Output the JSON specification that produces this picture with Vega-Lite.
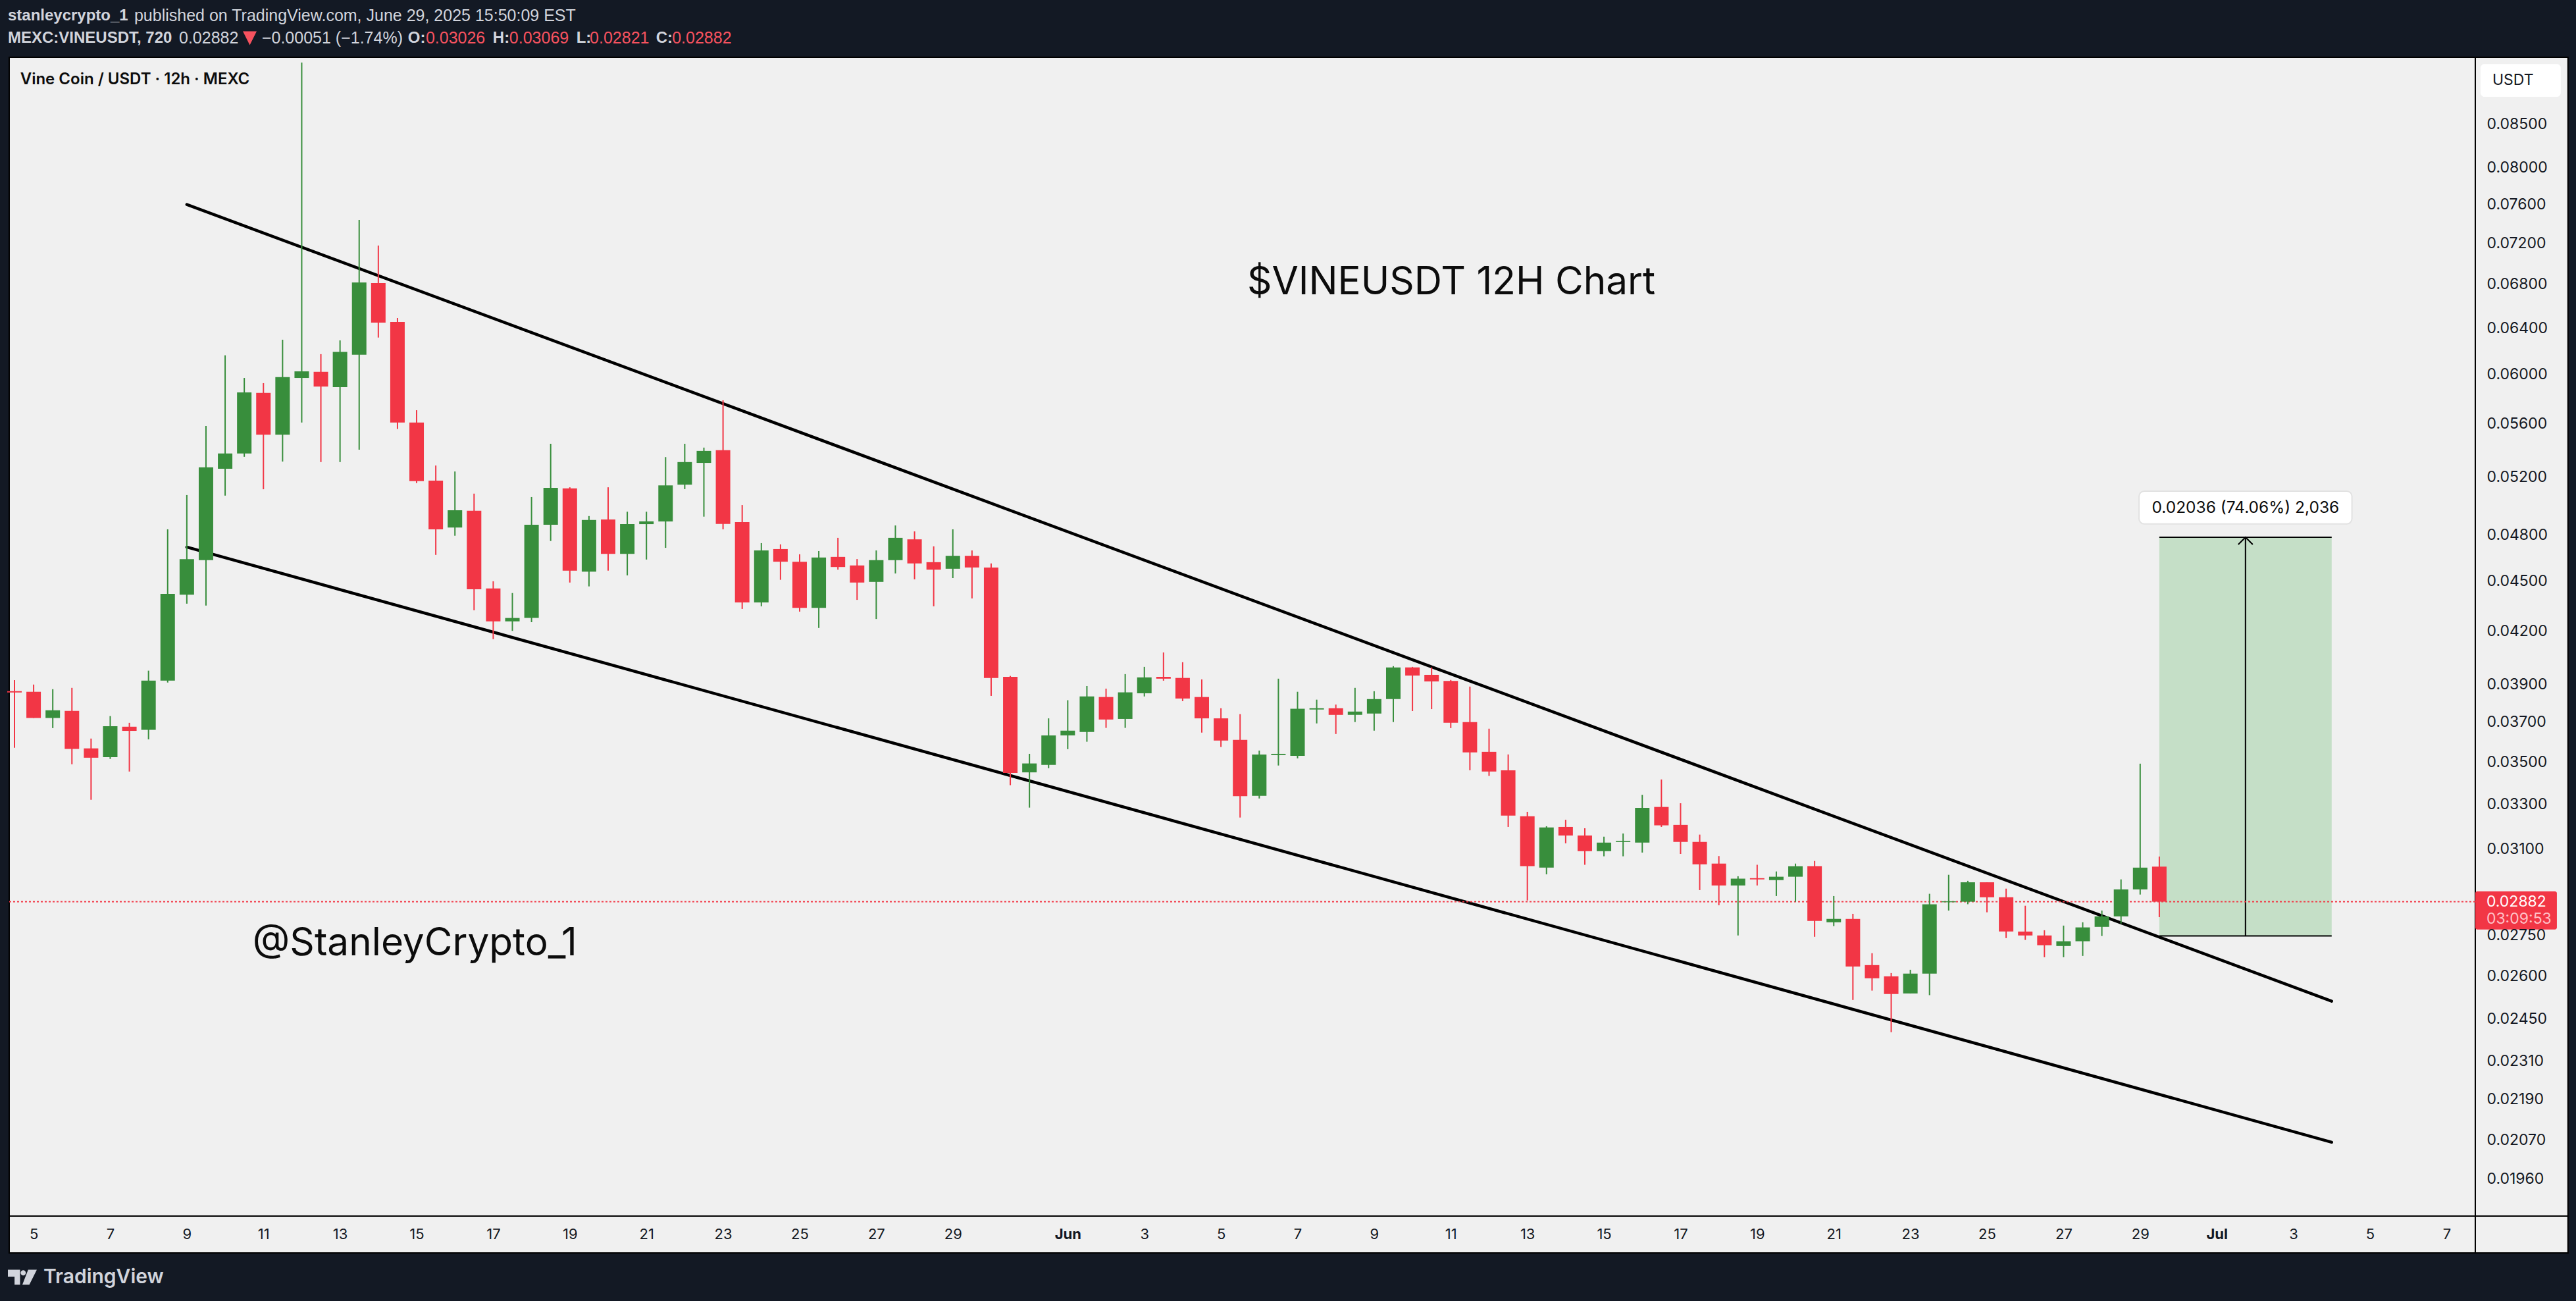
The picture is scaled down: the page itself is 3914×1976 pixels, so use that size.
{
  "$schema": "https://vega.github.io/schema/vega-lite/v6.json",
  "autosize": {"type": "none"},
  "padding": 0,
  "width": 3914,
  "height": 1976,
  "background": "#131924",
  "config": {"view": {"stroke": null}, "text": {"font": "Inter"}},
  "datasets": {
    "candles": [
      {"t":"2025-05-04T12:00:00Z","o":0.03862,"h":0.03922,"l":0.03570,"c":0.03855},
      {"t":"2025-05-05T00:00:00Z","o":0.03859,"h":0.03898,"l":0.03721,"c":0.03721},
      {"t":"2025-05-05T12:00:00Z","o":0.03721,"h":0.03873,"l":0.03669,"c":0.03761},
      {"t":"2025-05-06T00:00:00Z","o":0.03758,"h":0.03880,"l":0.03489,"c":0.03564},
      {"t":"2025-05-06T12:00:00Z","o":0.03567,"h":0.03616,"l":0.03321,"c":0.03521},
      {"t":"2025-05-07T00:00:00Z","o":0.03524,"h":0.03731,"l":0.03515,"c":0.03679},
      {"t":"2025-05-07T12:00:00Z","o":0.03676,"h":0.03696,"l":0.03454,"c":0.03655},
      {"t":"2025-05-08T00:00:00Z","o":0.03660,"h":0.03974,"l":0.03612,"c":0.03919},
      {"t":"2025-05-08T12:00:00Z","o":0.03919,"h":0.04837,"l":0.03909,"c":0.04422},
      {"t":"2025-05-09T00:00:00Z","o":0.04417,"h":0.05073,"l":0.04362,"c":0.04641},
      {"t":"2025-05-09T12:00:00Z","o":0.04634,"h":0.05584,"l":0.04350,"c":0.05272},
      {"t":"2025-05-10T00:00:00Z","o":0.05262,"h":0.06161,"l":0.05069,"c":0.05375},
      {"t":"2025-05-10T12:00:00Z","o":0.05375,"h":0.05970,"l":0.05350,"c":0.05851},
      {"t":"2025-05-11T00:00:00Z","o":0.05847,"h":0.05927,"l":0.05114,"c":0.05517},
      {"t":"2025-05-11T12:00:00Z","o":0.05517,"h":0.06296,"l":0.05315,"c":0.05977},
      {"t":"2025-05-12T00:00:00Z","o":0.05970,"h":0.09255,"l":0.05611,"c":0.06025},
      {"t":"2025-05-12T12:00:00Z","o":0.06021,"h":0.06171,"l":0.05311,"c":0.05899},
      {"t":"2025-05-13T00:00:00Z","o":0.05894,"h":0.06290,"l":0.05311,"c":0.06190},
      {"t":"2025-05-13T12:00:00Z","o":0.06166,"h":0.07437,"l":0.05403,"c":0.06818},
      {"t":"2025-05-14T00:00:00Z","o":0.06811,"h":0.07177,"l":0.06315,"c":0.06447},
      {"t":"2025-05-14T12:00:00Z","o":0.06453,"h":0.06489,"l":0.05561,"c":0.05611},
      {"t":"2025-05-15T00:00:00Z","o":0.05611,"h":0.05708,"l":0.05158,"c":0.05172},
      {"t":"2025-05-15T12:00:00Z","o":0.05176,"h":0.05286,"l":0.04668,"c":0.04837},
      {"t":"2025-05-16T00:00:00Z","o":0.04849,"h":0.05242,"l":0.04794,"c":0.04967},
      {"t":"2025-05-16T12:00:00Z","o":0.04963,"h":0.05083,"l":0.04322,"c":0.04450},
      {"t":"2025-05-17T00:00:00Z","o":0.04455,"h":0.04500,"l":0.04152,"c":0.04256},
      {"t":"2025-05-17T12:00:00Z","o":0.04256,"h":0.04427,"l":0.04200,"c":0.04276},
      {"t":"2025-05-18T00:00:00Z","o":0.04276,"h":0.05059,"l":0.04251,"c":0.04868},
      {"t":"2025-05-18T12:00:00Z","o":0.04868,"h":0.05448,"l":0.04759,"c":0.05124},
      {"t":"2025-05-19T00:00:00Z","o":0.05120,"h":0.05128,"l":0.04492,"c":0.04567},
      {"t":"2025-05-19T12:00:00Z","o":0.04561,"h":0.04927,"l":0.04468,"c":0.04900},
      {"t":"2025-05-20T00:00:00Z","o":0.04904,"h":0.05128,"l":0.04567,"c":0.04675},
      {"t":"2025-05-20T12:00:00Z","o":0.04675,"h":0.04957,"l":0.04537,"c":0.04872},
      {"t":"2025-05-21T00:00:00Z","o":0.04872,"h":0.04957,"l":0.04638,"c":0.04891},
      {"t":"2025-05-21T12:00:00Z","o":0.04890,"h":0.05348,"l":0.04714,"c":0.05142},
      {"t":"2025-05-22T00:00:00Z","o":0.05147,"h":0.05448,"l":0.05115,"c":0.05311},
      {"t":"2025-05-22T12:00:00Z","o":0.05305,"h":0.05419,"l":0.04923,"c":0.05394},
      {"t":"2025-05-23T00:00:00Z","o":0.05399,"h":0.05787,"l":0.04837,"c":0.04873},
      {"t":"2025-05-23T12:00:00Z","o":0.04886,"h":0.05003,"l":0.04330,"c":0.04369},
      {"t":"2025-05-24T00:00:00Z","o":0.04369,"h":0.04745,"l":0.04346,"c":0.04697},
      {"t":"2025-05-24T12:00:00Z","o":0.04706,"h":0.04737,"l":0.04509,"c":0.04624},
      {"t":"2025-05-25T00:00:00Z","o":0.04624,"h":0.04672,"l":0.04314,"c":0.04337},
      {"t":"2025-05-25T12:00:00Z","o":0.04337,"h":0.04693,"l":0.04217,"c":0.04651},
      {"t":"2025-05-26T00:00:00Z","o":0.04655,"h":0.04780,"l":0.04573,"c":0.04590},
      {"t":"2025-05-26T12:00:00Z","o":0.04600,"h":0.04641,"l":0.04385,"c":0.04492},
      {"t":"2025-05-27T00:00:00Z","o":0.04496,"h":0.04697,"l":0.04270,"c":0.04634},
      {"t":"2025-05-27T12:00:00Z","o":0.04634,"h":0.04863,"l":0.04549,"c":0.04780},
      {"t":"2025-05-28T00:00:00Z","o":0.04770,"h":0.04823,"l":0.04512,"c":0.04613},
      {"t":"2025-05-28T12:00:00Z","o":0.04621,"h":0.04724,"l":0.04346,"c":0.04573},
      {"t":"2025-05-29T00:00:00Z","o":0.04579,"h":0.04837,"l":0.04520,"c":0.04662},
      {"t":"2025-05-29T12:00:00Z","o":0.04662,"h":0.04697,"l":0.04394,"c":0.04587},
      {"t":"2025-05-30T00:00:00Z","o":0.04587,"h":0.04613,"l":0.03837,"c":0.03934},
      {"t":"2025-05-30T12:00:00Z","o":0.03940,"h":0.03945,"l":0.03389,"c":0.03447},
      {"t":"2025-05-31T00:00:00Z","o":0.03450,"h":0.03540,"l":0.03285,"c":0.03493},
      {"t":"2025-05-31T12:00:00Z","o":0.03486,"h":0.03719,"l":0.03470,"c":0.03632},
      {"t":"2025-06-01T00:00:00Z","o":0.03632,"h":0.03814,"l":0.03563,"c":0.03656},
      {"t":"2025-06-01T12:00:00Z","o":0.03649,"h":0.03890,"l":0.03600,"c":0.03834},
      {"t":"2025-06-02T00:00:00Z","o":0.03831,"h":0.03876,"l":0.03670,"c":0.03713},
      {"t":"2025-06-02T12:00:00Z","o":0.03716,"h":0.03955,"l":0.03670,"c":0.03856},
      {"t":"2025-06-03T00:00:00Z","o":0.03851,"h":0.03995,"l":0.03834,"c":0.03937},
      {"t":"2025-06-03T12:00:00Z","o":0.03940,"h":0.04076,"l":0.03919,"c":0.03930},
      {"t":"2025-06-04T00:00:00Z","o":0.03934,"h":0.04021,"l":0.03809,"c":0.03823},
      {"t":"2025-06-04T12:00:00Z","o":0.03831,"h":0.03926,"l":0.03646,"c":0.03719},
      {"t":"2025-06-05T00:00:00Z","o":0.03719,"h":0.03772,"l":0.03574,"c":0.03606},
      {"t":"2025-06-05T12:00:00Z","o":0.03609,"h":0.03741,"l":0.03240,"c":0.03338},
      {"t":"2025-06-06T00:00:00Z","o":0.03339,"h":0.03556,"l":0.03327,"c":0.03537},
      {"t":"2025-06-06T12:00:00Z","o":0.03534,"h":0.03930,"l":0.03483,"c":0.03540},
      {"t":"2025-06-07T00:00:00Z","o":0.03530,"h":0.03859,"l":0.03518,"c":0.03769},
      {"t":"2025-06-07T12:00:00Z","o":0.03765,"h":0.03817,"l":0.03693,"c":0.03772},
      {"t":"2025-06-08T00:00:00Z","o":0.03772,"h":0.03791,"l":0.03639,"c":0.03737},
      {"t":"2025-06-08T12:00:00Z","o":0.03737,"h":0.03880,"l":0.03700,"c":0.03754},
      {"t":"2025-06-09T00:00:00Z","o":0.03744,"h":0.03862,"l":0.03656,"c":0.03820},
      {"t":"2025-06-09T12:00:00Z","o":0.03820,"h":0.03999,"l":0.03700,"c":0.03992},
      {"t":"2025-06-10T00:00:00Z","o":0.03992,"h":0.03995,"l":0.03757,"c":0.03947},
      {"t":"2025-06-10T12:00:00Z","o":0.03951,"h":0.03992,"l":0.03767,"c":0.03915},
      {"t":"2025-06-11T00:00:00Z","o":0.03918,"h":0.03923,"l":0.03669,"c":0.03696},
      {"t":"2025-06-11T12:00:00Z","o":0.03700,"h":0.03887,"l":0.03460,"c":0.03547},
      {"t":"2025-06-12T00:00:00Z","o":0.03550,"h":0.03666,"l":0.03433,"c":0.03454},
      {"t":"2025-06-12T12:00:00Z","o":0.03460,"h":0.03537,"l":0.03198,"c":0.03249},
      {"t":"2025-06-13T00:00:00Z","o":0.03246,"h":0.03266,"l":0.02887,"c":0.03028},
      {"t":"2025-06-13T12:00:00Z","o":0.03022,"h":0.03201,"l":0.02994,"c":0.03196},
      {"t":"2025-06-14T00:00:00Z","o":0.03198,"h":0.03230,"l":0.03126,"c":0.03160},
      {"t":"2025-06-14T12:00:00Z","o":0.03160,"h":0.03192,"l":0.03034,"c":0.03092},
      {"t":"2025-06-15T00:00:00Z","o":0.03092,"h":0.03155,"l":0.03070,"c":0.03129},
      {"t":"2025-06-15T12:00:00Z","o":0.03132,"h":0.03169,"l":0.03070,"c":0.03137},
      {"t":"2025-06-16T00:00:00Z","o":0.03129,"h":0.03344,"l":0.03086,"c":0.03284},
      {"t":"2025-06-16T12:00:00Z","o":0.03288,"h":0.03416,"l":0.03198,"c":0.03205},
      {"t":"2025-06-17T00:00:00Z","o":0.03207,"h":0.03305,"l":0.03080,"c":0.03132},
      {"t":"2025-06-17T12:00:00Z","o":0.03132,"h":0.03164,"l":0.02929,"c":0.03036},
      {"t":"2025-06-18T00:00:00Z","o":0.03039,"h":0.03071,"l":0.02868,"c":0.02948},
      {"t":"2025-06-18T12:00:00Z","o":0.02948,"h":0.02986,"l":0.02750,"c":0.02976},
      {"t":"2025-06-19T00:00:00Z","o":0.02978,"h":0.03034,"l":0.02948,"c":0.02973},
      {"t":"2025-06-19T12:00:00Z","o":0.02970,"h":0.03006,"l":0.02905,"c":0.02984},
      {"t":"2025-06-20T00:00:00Z","o":0.02984,"h":0.03039,"l":0.02882,"c":0.03028},
      {"t":"2025-06-20T12:00:00Z","o":0.03028,"h":0.03050,"l":0.02745,"c":0.02806},
      {"t":"2025-06-21T00:00:00Z","o":0.02801,"h":0.02905,"l":0.02786,"c":0.02814},
      {"t":"2025-06-21T12:00:00Z","o":0.02814,"h":0.02834,"l":0.02514,"c":0.02634},
      {"t":"2025-06-22T00:00:00Z","o":0.02639,"h":0.02683,"l":0.02547,"c":0.02591},
      {"t":"2025-06-22T12:00:00Z","o":0.02598,"h":0.02610,"l":0.02404,"c":0.02535},
      {"t":"2025-06-23T00:00:00Z","o":0.02537,"h":0.02622,"l":0.02537,"c":0.02608},
      {"t":"2025-06-23T12:00:00Z","o":0.02608,"h":0.02914,"l":0.02531,"c":0.02872},
      {"t":"2025-06-24T00:00:00Z","o":0.02880,"h":0.02992,"l":0.02847,"c":0.02884},
      {"t":"2025-06-24T12:00:00Z","o":0.02882,"h":0.02967,"l":0.02872,"c":0.02961},
      {"t":"2025-06-25T00:00:00Z","o":0.02961,"h":0.02961,"l":0.02840,"c":0.02900},
      {"t":"2025-06-25T12:00:00Z","o":0.02900,"h":0.02935,"l":0.02740,"c":0.02765},
      {"t":"2025-06-26T00:00:00Z","o":0.02765,"h":0.02866,"l":0.02733,"c":0.02750},
      {"t":"2025-06-26T12:00:00Z","o":0.02750,"h":0.02770,"l":0.02668,"c":0.02713},
      {"t":"2025-06-27T00:00:00Z","o":0.02710,"h":0.02788,"l":0.02668,"c":0.02728},
      {"t":"2025-06-27T12:00:00Z","o":0.02728,"h":0.02801,"l":0.02673,"c":0.02781},
      {"t":"2025-06-28T00:00:00Z","o":0.02783,"h":0.02847,"l":0.02748,"c":0.02824},
      {"t":"2025-06-28T12:00:00Z","o":0.02824,"h":0.02973,"l":0.02796,"c":0.02932},
      {"t":"2025-06-29T00:00:00Z","o":0.02932,"h":0.03492,"l":0.02911,"c":0.03022},
      {"t":"2025-06-29T12:00:00Z","o":0.03026,"h":0.03069,"l":0.02821,"c":0.02882}
    ]
  },
  "encoding": {
    "x": {
      "field": "t",
      "type": "temporal",
      "title": null,
      "scale": {"type": "utc", "domain": ["2025-05-04T02:56:00Z", "2025-07-10T09:06:00Z"], "padding": 0},
      "axis": {
        "orient": "bottom",
        "offset": -129,
        "zindex": 1,
        "domain": false,
        "ticks": false,
        "grid": false,
        "labelPadding": 27,
        "labelBaseline": "middle",
        "labelAlign": "center",
        "labelFont": "Inter",
        "labelFontSize": 22,
        "labelColor": "#131722",
        "labelOverlap": false,
        "labelBound": false,
        "labelFlush": false,
        "labelFontWeight": {"condition": {"test": "utcdate(datum.value) == 1", "value": "bold"}, "value": "normal"},
        "labelExpr": "utcdate(datum.value) == 1 ? utcFormat(datum.value, '%b') : '' + utcdate(datum.value)",
        "values": [
          "2025-05-05T00:00:00Z","2025-05-07T00:00:00Z","2025-05-09T00:00:00Z","2025-05-11T00:00:00Z","2025-05-13T00:00:00Z",
          "2025-05-15T00:00:00Z","2025-05-17T00:00:00Z","2025-05-19T00:00:00Z","2025-05-21T00:00:00Z","2025-05-23T00:00:00Z",
          "2025-05-25T00:00:00Z","2025-05-27T00:00:00Z","2025-05-29T00:00:00Z","2025-06-01T00:00:00Z","2025-06-03T00:00:00Z",
          "2025-06-05T00:00:00Z","2025-06-07T00:00:00Z","2025-06-09T00:00:00Z","2025-06-11T00:00:00Z","2025-06-13T00:00:00Z",
          "2025-06-15T00:00:00Z","2025-06-17T00:00:00Z","2025-06-19T00:00:00Z","2025-06-21T00:00:00Z","2025-06-23T00:00:00Z",
          "2025-06-25T00:00:00Z","2025-06-27T00:00:00Z","2025-06-29T00:00:00Z","2025-07-01T00:00:00Z","2025-07-03T00:00:00Z",
          "2025-07-05T00:00:00Z","2025-07-07T00:00:00Z"
        ]
      }
    },
    "y": {
      "field": "p",
      "type": "quantitative",
      "title": null,
      "scale": {"type": "log", "domain": [0.016543, 0.10097], "nice": false, "zero": false},
      "axis": {
        "orient": "right",
        "offset": -152,
        "zindex": 1,
        "domain": false,
        "ticks": false,
        "grid": false,
        "labelPadding": 16,
        "labelAlign": "left",
        "labelBaseline": "middle",
        "labelFont": "Inter",
        "labelFontSize": 23,
        "labelColor": "#131722",
        "labelOverlap": false,
        "labelBound": false,
        "format": ".5f",
        "values": [0.085,0.08,0.076,0.072,0.068,0.064,0.06,0.056,0.052,0.048,0.045,0.042,0.039,0.037,0.035,0.033,0.031,0.0275,0.026,0.0245,0.0231,0.0219,0.0207,0.0196]
      }
    }
  },
  "layer": [
    {
      "data": {"values": [{"t":"2025-05-04T08:42:00Z","t2":"2025-07-10T04:05:00Z","p":0.09323,"p2":0.017687}]},
      "mark": {"type": "rect", "fill": "#f0f0f0", "stroke": "#000000", "strokeWidth": 2},
      "encoding": {"x2": {"field": "t2"}, "y2": {"field": "p2"}}
    },
    {
      "data": {"values": [
        {"t":"2025-07-07T18:00:00Z","t2":"2025-07-07T18:00:00Z","p":0.09323,"p2":0.017687},
        {"t":"2025-05-04T08:42:00Z","t2":"2025-07-10T04:05:00Z","p":0.018615,"p2":0.018615}
      ]},
      "mark": {"type": "rule", "color": "#000000", "strokeWidth": 2},
      "encoding": {"x2": {"field": "t2"}, "y2": {"field": "p2"}}
    },
    {
      "data": {"values": [{"t":"2025-06-29T12:00:00Z","t2":"2025-07-04T00:00:00Z","p":0.04784,"p2":0.02748}]},
      "mark": {"type": "rect", "fill": "#c5dfc7"},
      "encoding": {"x2": {"field": "t2"}, "y2": {"field": "p2"}}
    },
    {
      "data": {"values": [{"name":"upper","t":"2025-05-09T00:00:00Z","p":0.07598},{"name":"upper","t":"2025-07-04T00:00:00Z","p":0.02510},{"name":"lower","t":"2025-05-09T00:00:00Z","p":0.04719},{"name":"lower","t":"2025-07-04T00:00:00Z","p":0.02063}]},
      "mark": {"type": "line", "color": "#000000", "strokeWidth": 4.5, "strokeCap": "round"},
      "encoding": {"detail": {"field": "name"}}
    },
    {
      "data": {"values": [
        {"t":"2025-06-29T12:00:00Z","t2":"2025-07-04T00:00:00Z","p":0.04784,"p2":0.04784},
        {"t":"2025-06-29T12:00:00Z","t2":"2025-07-04T00:00:00Z","p":0.02748,"p2":0.02748},
        {"t":"2025-07-01T18:00:00Z","t2":"2025-07-01T18:00:00Z","p":0.04784,"p2":0.02748}
      ]},
      "mark": {"type": "rule", "color": "#000000", "strokeWidth": 2},
      "encoding": {"x2": {"field": "t2"}, "y2": {"field": "p2"}}
    },
    {
      "data": {"values": [{"t":"2025-07-01T18:00:00Z","p":0.04784}]},
      "mark": {"type": "point", "shape": "M-0.5,0.5L0,0L0.5,0.5", "filled": false, "size": 1936, "stroke": "#000000", "strokeWidth": 2, "opacity": 1}
    },
    {
      "data": {"values": [{"t":"2025-05-04T08:42:00Z","t2":"2025-07-07T18:00:00Z","p":0.02882,"p2":0.02882}]},
      "mark": {"type": "rule", "color": "#f23645", "strokeWidth": 2, "strokeDash": [3, 3]},
      "encoding": {"x2": {"field": "t2"}, "y2": {"field": "p2"}}
    },
    {
      "data": {"name": "candles"},
      "mark": {"type": "rule", "strokeWidth": 2},
      "encoding": {
        "y": {"field": "l", "type": "quantitative", "scale": {"type": "log"}},
        "y2": {"field": "h"},
        "color": {"condition": {"test": "datum.o < datum.c", "value": "#388e3c"}, "value": "#f23645"}
      }
    },
    {
      "data": {"name": "candles"},
      "mark": {"type": "bar", "size": 22, "orient": "vertical"},
      "encoding": {
        "y": {"field": "o", "type": "quantitative", "scale": {"type": "log"}},
        "y2": {"field": "c"},
        "color": {"condition": {"test": "datum.o < datum.c", "value": "#388e3c"}, "value": "#f23645"}
      }
    },
    {
      "data": {"values": [{"t":"2025-06-28T23:17:00Z","t2":"2025-07-04T12:43:00Z","p":0.05101,"p2":0.04873}]},
      "mark": {"type": "rect", "fill": "#ffffff", "stroke": "#e2e2e2", "strokeWidth": 2, "cornerRadius": 8},
      "encoding": {"x2": {"field": "t2"}, "y2": {"field": "p2"}}
    },
    {
      "data": {"values": [{"t":"2025-07-07T21:16:00Z","t2":"2025-07-09T23:32:00Z","p":0.09238,"p2":0.08825}]},
      "mark": {"type": "rect", "fill": "#ffffff", "cornerRadius": 6},
      "encoding": {"x2": {"field": "t2"}, "y2": {"field": "p2"}}
    },
    {
      "data": {"values": [{"t":"2025-07-07T18:00:00Z","t2":"2025-07-09T21:07:00Z","p":0.02924,"p2":0.02773}]},
      "mark": {"type": "rect", "fill": "#f23645", "cornerRadius": 3},
      "encoding": {"x2": {"field": "t2"}, "y2": {"field": "p2"}}
    },
    {
      "data": {"values": [
        {"t":"2025-05-04T07:52:00Z","p":0.09877,"label":"stanleycrypto_1"},
        {"t":"2025-05-04T07:52:00Z","p":0.09574,"label":"MEXC:VINEUSDT, 720"},
        {"t":"2025-05-14T18:34:00Z","p":0.09574,"label":"O:"},
        {"t":"2025-05-16T23:46:00Z","p":0.09574,"label":"H:"},
        {"t":"2025-05-19T04:05:00Z","p":0.09574,"label":"L:"},
        {"t":"2025-05-21T06:00:00Z","p":0.09574,"label":"C:"}
      ]},
      "mark": {"type": "text", "font": "Liberation Sans", "fontSize": 24, "fontWeight": "bold", "color": "#d1d4dc", "align": "left", "baseline": "middle"},
      "encoding": {"text": {"field": "label"}}
    },
    {
      "data": {"values": [
        {"t":"2025-05-07T15:03:00Z","p":0.09877,"label":"published on TradingView.com, June 29, 2025 15:50:09 EST"},
        {"t":"2025-05-08T19:06:00Z","p":0.09574,"label":"0.02882"},
        {"t":"2025-05-10T23:02:00Z","p":0.09574,"label":"−0.00051 (−1.74%)"}
      ]},
      "mark": {"type": "text", "font": "Liberation Sans", "fontSize": 25, "color": "#d1d4dc", "align": "left", "baseline": "middle"},
      "encoding": {"text": {"field": "label"}}
    },
    {
      "data": {"values": [{"t":"2025-05-10T15:26:00Z","p":0.09574}]},
      "mark": {"type": "point", "shape": "M-0.5,-0.5H0.5L0,0.5Z", "filled": true, "size": 1764, "color": "#f7525f", "opacity": 1}
    },
    {
      "data": {"values": [
        {"t":"2025-05-15T05:43:00Z","p":0.09574,"label":"0.03026"},
        {"t":"2025-05-17T10:05:00Z","p":0.09574,"label":"0.03069"},
        {"t":"2025-05-19T12:29:00Z","p":0.09574,"label":"0.02821"},
        {"t":"2025-05-21T16:05:00Z","p":0.09574,"label":"0.02882"}
      ]},
      "mark": {"type": "text", "font": "Liberation Sans", "fontSize": 25, "color": "#f7525f", "align": "left", "baseline": "middle"},
      "encoding": {"text": {"field": "label"}}
    },
    {
      "data": {"values": [
        {"t":"2025-06-05T16:25:00Z","p":0.06817,"label":"$VINEUSDT 12H Chart"},
        {"t":"2025-05-10T17:14:00Z","p":0.02720,"label":"@StanleyCrypto_1"}
      ]},
      "mark": {"type": "text", "font": "Inter", "fontSize": 58.5, "color": "#0c0c0c", "align": "left", "baseline": "middle"},
      "encoding": {"text": {"field": "label"}}
    },
    {
      "data": {"values": [{"t":"2025-05-04T15:35:00Z","p":0.09038,"label":"Vine Coin / USDT · 12h · MEXC"}]},
      "mark": {"type": "text", "font": "Inter", "fontSize": 24, "fontWeight": 600, "color": "#0c0c0c", "align": "left", "baseline": "middle"},
      "encoding": {"text": {"field": "label"}}
    },
    {
      "data": {"values": [{"t":"2025-07-01T18:00:00Z","p":0.04981,"label":"0.02036 (74.06%) 2,036"}]},
      "mark": {"type": "text", "font": "Inter", "fontSize": 24.5, "color": "#0c0c0c", "align": "center", "baseline": "middle"},
      "encoding": {"text": {"field": "label"}}
    },
    {
      "data": {"values": [{"t":"2025-07-08T04:41:00Z","p":0.09029,"label":"USDT"}]},
      "mark": {"type": "text", "font": "Inter", "fontSize": 23, "color": "#131722", "align": "left", "baseline": "middle"},
      "encoding": {"text": {"field": "label"}}
    },
    {
      "data": {"values": [{"t":"2025-07-08T00:58:00Z","p":0.02882,"label":"0.02882"}]},
      "mark": {"type": "text", "font": "Inter", "fontSize": 23, "color": "#ffffff", "align": "left", "baseline": "middle"},
      "encoding": {"text": {"field": "label"}}
    },
    {
      "data": {"values": [{"t":"2025-07-08T00:58:00Z","p":0.02814,"label":"03:09:53"}]},
      "mark": {"type": "text", "font": "Inter", "fontSize": 23, "color": "#ffc0c6", "align": "left", "baseline": "middle"},
      "encoding": {"text": {"field": "label"}}
    },
    {
      "data": {"values": [{"t":"2025-05-04T16:57:00Z","p":0.0171}]},
      "mark": {"type": "point", "filled": true, "size": 7744, "color": "#d1d4dc", "opacity": 1, "shape": "M-0.5,-0.26H-0.08V0.26H-0.27V-0.02H-0.5ZM-0.06,-0.15a0.09,0.09 0 1,0 0.18,0a0.09,0.09 0 1,0 -0.18,0ZM0.2,-0.26H0.5L0.24,0.26H0Z"}
    },
    {
      "data": {"values": [{"t":"2025-05-05T06:08:00Z","p":0.0171,"label":"TradingView"}]},
      "mark": {"type": "text", "font": "Inter", "fontSize": 30, "fontWeight": 600, "color": "#d1d4dc", "align": "left", "baseline": "middle"},
      "encoding": {"text": {"field": "label"}}
    }
  ]
}
